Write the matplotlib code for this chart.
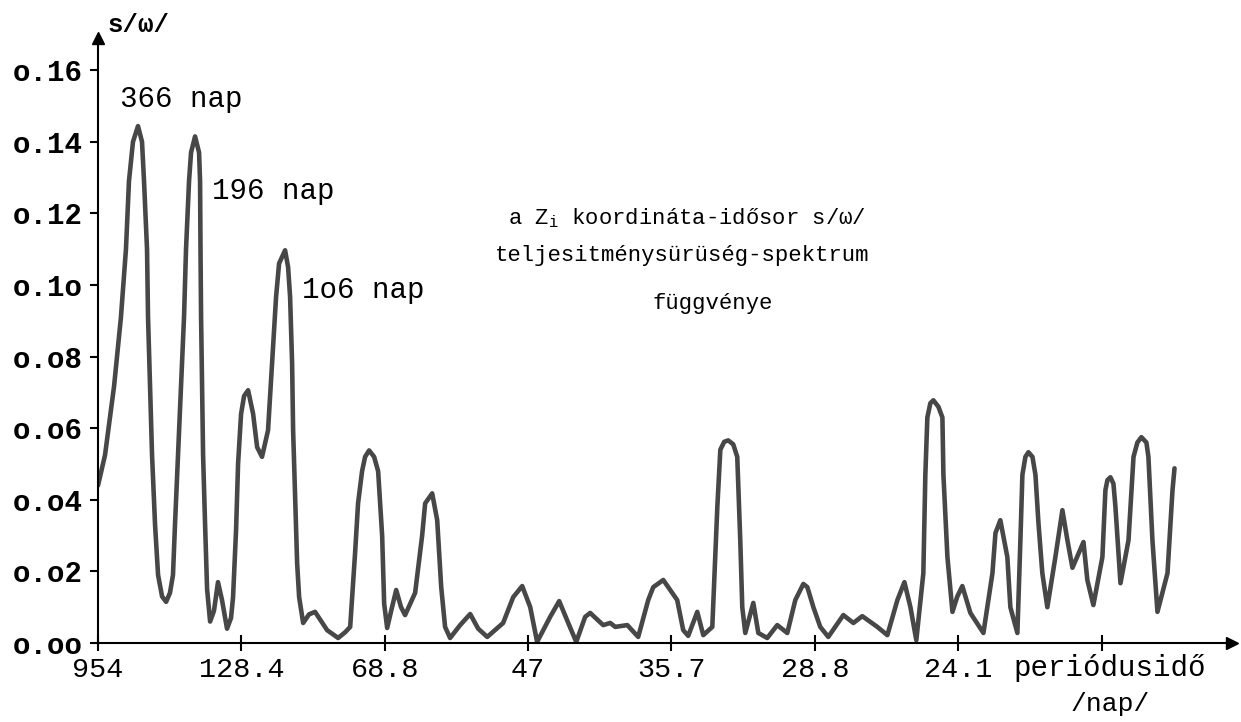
import matplotlib
matplotlib.use('Agg')
import matplotlib.pyplot as plt

# x = position along the frequency axis, in tick steps (0 = 954 nap, 1 = 128.4 nap, ...)
x = [0.000, 0.049, 0.112, 0.160, 0.195, 0.216, 0.244, 0.279, 0.307, 0.321,
     0.342, 0.349, 0.363, 0.377, 0.398, 0.419, 0.447, 0.475, 0.502, 0.523,
     0.537, 0.558, 0.579, 0.600, 0.614, 0.635, 0.649, 0.677, 0.705, 0.712,
     0.715, 0.719, 0.726, 0.733, 0.747, 0.761, 0.782, 0.809, 0.837, 0.865,
     0.900, 0.928, 0.942, 0.963, 0.977, 0.998, 1.019, 1.047, 1.082, 1.110,
     1.144, 1.186, 1.214, 1.242, 1.263, 1.305, 1.326, 1.340, 1.354, 1.361,
     1.375, 1.389, 1.403, 1.431, 1.472, 1.514, 1.598, 1.675, 1.724, 1.759,
     1.793, 1.814, 1.842, 1.863, 1.891, 1.926, 1.954, 1.982, 1.996, 2.017,
     2.045, 2.080, 2.114, 2.142, 2.212, 2.261, 2.282, 2.331, 2.366, 2.394,
     2.421, 2.456, 2.526, 2.596, 2.652, 2.715, 2.826, 2.896, 2.959, 3.015,
     3.063, 3.154, 3.217, 3.280, 3.336, 3.398, 3.433, 3.524, 3.573, 3.608,
     3.692, 3.768, 3.838, 3.873, 3.943, 4.040, 4.082, 4.117, 4.180, 4.222,
     4.285, 4.320, 4.341, 4.368, 4.396, 4.431, 4.459, 4.480, 4.494, 4.515,
     4.543, 4.571, 4.606, 4.668, 4.738, 4.808, 4.864, 4.920, 4.948, 4.990,
     5.038, 5.094, 5.199, 5.269, 5.331, 5.436, 5.506, 5.576, 5.625, 5.667,
     5.708, 5.757, 5.771, 5.785, 5.806, 5.827, 5.862, 5.890, 5.897, 5.925,
     5.960, 5.994, 6.029, 6.085, 6.176, 6.239, 6.260, 6.294, 6.343, 6.364,
     6.413, 6.434, 6.448, 6.469, 6.490, 6.518, 6.539, 6.560, 6.587, 6.622,
     6.678, 6.727, 6.762, 6.797, 6.874, 6.901, 6.943, 7.006, 7.027, 7.041,
     7.062, 7.083, 7.097, 7.132, 7.188, 7.223, 7.250, 7.278, 7.313, 7.327,
     7.355, 7.390, 7.460, 7.495, 7.509]

s = [0.0440, 0.0525, 0.0717, 0.0910, 0.1100, 0.1290, 0.1400, 0.1444, 0.1400, 0.1290,
     0.1100, 0.0910, 0.0717, 0.0525, 0.0330, 0.0190, 0.0130, 0.0115, 0.0140, 0.0190,
     0.0330, 0.0525, 0.0717, 0.0910, 0.1100, 0.1290, 0.1370, 0.1415, 0.1370, 0.1290,
     0.1100, 0.0910, 0.0717, 0.0525, 0.0330, 0.0150, 0.0060, 0.0090, 0.0170, 0.0120,
     0.0040, 0.0070, 0.0128, 0.0315, 0.0500, 0.0640, 0.0690, 0.0706, 0.0640, 0.0547,
     0.0520, 0.0594, 0.0780, 0.0966, 0.1060, 0.1097, 0.1050, 0.0966, 0.0780, 0.0594,
     0.0407, 0.0223, 0.0128, 0.0056, 0.0080, 0.0087, 0.0036, 0.0014, 0.0030, 0.0045,
     0.0250, 0.0390, 0.0480, 0.0520, 0.0538, 0.0520, 0.0480, 0.0300, 0.0110, 0.0042,
     0.0090, 0.0148, 0.0100, 0.0078, 0.0140, 0.0300, 0.0390, 0.0418, 0.0343, 0.0156,
     0.0045, 0.0014, 0.0050, 0.0081, 0.0040, 0.0017, 0.0056, 0.0128, 0.0159, 0.0100,
     0.0003, 0.0073, 0.0117, 0.0056, 0.0003, 0.0073, 0.0084, 0.0050, 0.0056, 0.0045,
     0.0050, 0.0017, 0.0120, 0.0156, 0.0176, 0.0120, 0.0036, 0.0020, 0.0087, 0.0022,
     0.0045, 0.0380, 0.0540, 0.0562, 0.0566, 0.0555, 0.0520, 0.0287, 0.0100, 0.0028,
     0.0070, 0.0112, 0.0028, 0.0014, 0.0050, 0.0028, 0.0120, 0.0165, 0.0156, 0.0100,
     0.0045, 0.0017, 0.0078, 0.0056, 0.0075, 0.0045, 0.0022, 0.0120, 0.0170, 0.0100,
     0.0008, 0.0195, 0.0470, 0.0630, 0.0670, 0.0678, 0.0660, 0.0630, 0.0470, 0.0240,
     0.0087, 0.0130, 0.0159, 0.0084, 0.0028, 0.0195, 0.0307, 0.0343, 0.0240, 0.0100,
     0.0028, 0.0287, 0.0470, 0.0520, 0.0533, 0.0520, 0.0470, 0.0335, 0.0195, 0.0100,
     0.0240, 0.0371, 0.0287, 0.0210, 0.0282, 0.0176, 0.0106, 0.0240, 0.0427, 0.0455,
     0.0463, 0.0445, 0.0380, 0.0167, 0.0287, 0.0520, 0.0560, 0.0575, 0.0560, 0.0520,
     0.0287, 0.0087, 0.0195, 0.0427, 0.0488]

xtick_pos = [0, 1, 2, 3, 4, 5, 6, 7]
xtick_labels = ['954', '128.4', '68.8', '47', '35.7', '28.8', '24.1', '']
ytick_pos = [0.00, 0.02, 0.04, 0.06, 0.08, 0.10, 0.12, 0.14, 0.16]
ytick_labels = ['o.oo', 'o.o2', 'o.o4', 'o.o6', 'o.o8', 'o.1o', 'o.12', 'o.14', 'o.16']

# peak labels: (text, x, y)
peak_notes = [('366 nap', 0.154, 0.152),
              ('196 nap', 0.796, 0.1264),
              ('1o6 nap', 1.424, 0.0985)]

mono = 'Liberation Mono'
W, H = 1241, 722

fig = plt.figure(figsize=(W / 100, H / 100), dpi=100)
ax = fig.add_axes([98 / W, 79 / H, (1232 - 98) / W, (643 - 38) / H])
ax.set_xlim(0, 7.91)
ax.set_ylim(0, 0.169)

ax.plot(x, s, color='#474747', lw=3.3, solid_joinstyle='round', solid_capstyle='round')

for side in ['top', 'right']:
    ax.spines[side].set_visible(False)
for side in ['left', 'bottom']:
    ax.spines[side].set_linewidth(1.5)
    ax.spines[side].set_color('black')

# arrow heads at the axis ends
ax.plot(1, 0, marker='>', ms=9, color='black', transform=ax.transAxes, clip_on=False)
ax.plot(0, 1, marker='^', ms=9, color='black', transform=ax.transAxes, clip_on=False)

ax.set_xticks(xtick_pos)
ax.set_xticklabels(xtick_labels, fontfamily=mono, fontsize=20.5)
ax.set_yticks(ytick_pos)
ax.set_yticklabels(ytick_labels, fontfamily=mono, fontsize=21, fontweight='bold')
ax.tick_params(axis='x', direction='inout', length=12, width=1.5, pad=4)
ax.tick_params(axis='y', direction='out', length=6, width=1.5, pad=5)

for txt, px, py in peak_notes:
    ax.text(px, py, txt, fontfamily=mono, fontsize=21, ha='left', va='center')

fig.text(108 / W, 1 - 25 / H, 's/ω/', fontfamily=mono, fontsize=18.5,
         fontweight='bold', ha='left', va='center')

fig.text(687 / W, 1 - 218 / H, r'a Z$_\mathregular{i}$ koordináta-idősor s/ω/',
         fontfamily=mono, fontsize=16, ha='center', va='center')
fig.text(682 / W, 1 - 256 / H, 'teljesitménysürüség-spektrum',
         fontfamily=mono, fontsize=16, ha='center', va='center')
fig.text(713 / W, 1 - 303 / H, 'függvénye',
         fontfamily=mono, fontsize=16, ha='center', va='center')

fig.text(1013 / W, 1 - 668 / H, 'periódusidő', fontfamily=mono, fontsize=21,
         ha='left', va='center')
fig.text(1150 / W, 1 - 704 / H, '/nap/', fontfamily=mono, fontsize=19,
         ha='right', va='center')

fig.savefig('out.png', dpi=100, facecolor='white')
